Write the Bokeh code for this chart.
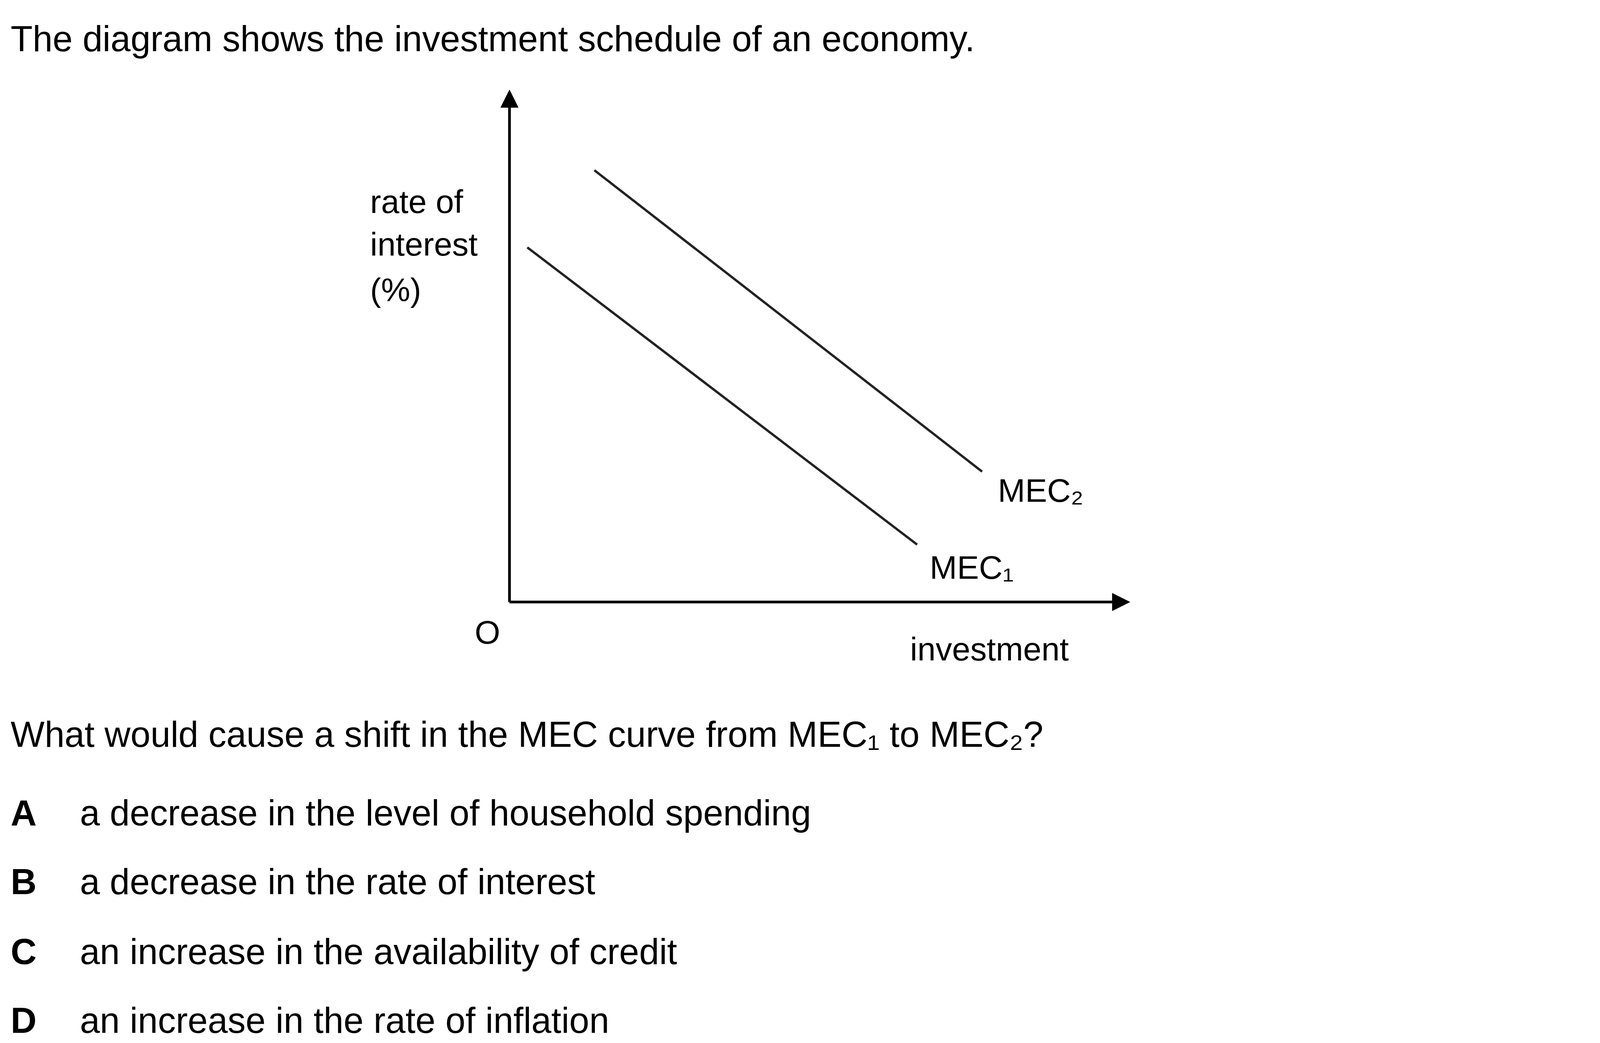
from bokeh.core.properties import value
from bokeh.embed import file_html
from bokeh.models import Arrow, NormalHead, Range1d
from bokeh.plotting import figure
from bokeh.resources import INLINE

# diagram data, in page units of the original (x right, y down)
origin = (486, 577)
y_axis_top = 86
x_axis_end = 1078
mec1_x = [503, 875]
mec1_y = [237, 522]
mec2_x = [567, 937]
mec2_y = [163, 452]

title = "The diagram shows the investment schedule of an economy."
question = "What would cause a shift in the MEC curve from MEC\u2081 to MEC\u2082?"
letters = ["A", "B", "C", "D"]
options = [
    "a decrease in the level of household spending",
    "a decrease in the rate of interest",
    "an increase in the availability of credit",
    "an increase in the rate of inflation",
]
option_y = [779, 845, 912, 978]

FONT = value("Liberation Sans")
BIG = "92px"
MID = "84px"

p = figure(width=4185, height=2653, x_range=Range1d(0, 1560), y_range=Range1d(994, 0),
           output_backend="svg", toolbar_location=None, min_border=0)
p.axis.visible = False
p.grid.visible = False
p.outline_line_color = None


def txt(x, y, s, size=BIG, style="normal", align="left"):
    p.text([x], [y], text=[s], text_font=FONT, text_font_size=size,
           text_font_style=style, text_align=align, text_baseline="alphabetic", text_color="black")


# axes with arrows
head = dict(size=45, fill_color="black", line_color="black")
p.add_layout(Arrow(end=NormalHead(**head), x_start=origin[0], y_start=origin[1],
                   x_end=origin[0], y_end=y_axis_top, line_width=7, line_color="black"))
p.add_layout(Arrow(end=NormalHead(**head), x_start=origin[0], y_start=origin[1],
                   x_end=x_axis_end, y_end=origin[1], line_width=7, line_color="black"))

p.line(mec1_x, mec1_y, line_width=6, line_color="#222222")
p.line(mec2_x, mec2_y, line_width=6, line_color="#222222")

txt(10, 37, title)
txt(353, 193, "rate of", size=MID)
txt(353, 234, "interest", size=MID)
txt(353, 278, "(%)", size=MID)
txt(465, 606, "O", size=MID, align="center")
txt(944, 622, "investment", size=MID, align="center")
txt(952, 470, "MEC\u2082", size=MID)
txt(887, 544, "MEC\u2081", size=MID)

txt(10, 704, question)

for letter, opt, yy in zip(letters, options, option_y):
    txt(10, yy, letter, style="bold")
    txt(76, yy, opt)

open("out.html", "w").write(file_html(p, INLINE))
